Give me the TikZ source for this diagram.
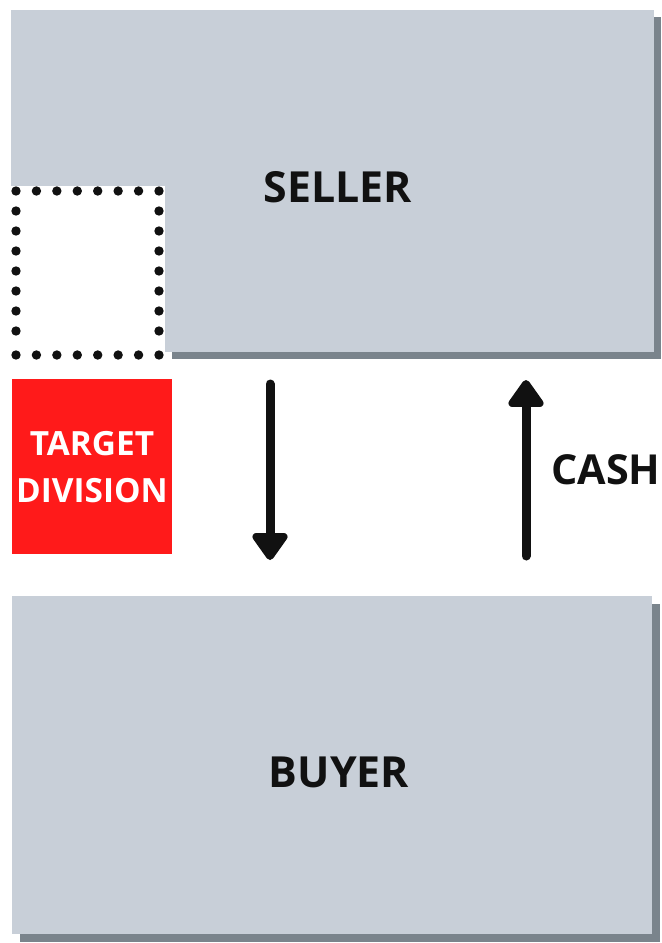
\documentclass[tikz,border=0pt]{standalone}
\usepackage{fontspec}
\setmainfont{Open Sans}
\usetikzlibrary{arrows.meta,shadows}
\definecolor{boxgray}{RGB}{200,207,216}
\definecolor{shadegray}{RGB}{122,132,140}
\definecolor{targetred}{RGB}{255,26,26}
\definecolor{ink}{RGB}{17,17,17}
\tikzset{
  party/.style={fill=boxgray, draw=none, inner sep=0pt, anchor=north west},
  shade/.style={drop shadow={shadow xshift=#1, shadow yshift=-#1, fill=shadegray, opacity=1}},
  bigtext/.style={font=\bfseries\fontsize{43}{50}\selectfont, text=ink, inner sep=0pt},
  flow/.style={line width=9bp, line cap=round, draw=ink,
    -{Triangle[width=40bp,length=30bp,round]}},
  dot/.style={fill=ink, draw=none},
}
\begin{document}
\begin{tikzpicture}[x=1bp, y=-1bp]
  \useasboundingbox (0,0) rectangle (662,943);

  % seller: main box with shadow, plus the part above the carved-out division
  \node[party, shade=7bp, minimum width=489bp, minimum height=342bp] (seller) at (165,10) {};
  \node[party, minimum width=154bp, minimum height=176bp] (sellertop) at (11,10) {};
  \node[bigtext] (sellerlabel) at (338,187) {SELLER};

  % dotted outline of the carved-out division
  \foreach \i in {0,...,7} {
    \fill[dot] ({16+143*\i/7},191) circle (4.7bp);
    \fill[dot] ({16+143*\i/7},355) circle (4.7bp);
  }
  \foreach \j in {1,...,7} {
    \fill[dot] (16,{191+20*\j}) circle (4.7bp);
    \fill[dot] (159,{191+20*\j}) circle (4.7bp);
  }

  % target division
  \node[fill=targetred, inner sep=0pt, anchor=north west,
        minimum width=160bp, minimum height=175bp] (target) at (12,379) {};
  \node[font=\bfseries\fontsize{33.5}{47}\selectfont, text=white, align=center,
        inner sep=0pt] (targetlabel) at (92,467) {TARGET\\DIVISION};

  % buyer
  \node[party, shade=8bp, minimum width=640bp, minimum height=338bp] (buyer) at (12,596) {};
  \node[bigtext] (buyerlabel) at (339,772) {BUYER};

  % flows between seller and buyer
  \coordinate (downtop) at (270,384);
  \coordinate (downend) at (270,560);
  \coordinate (uptop) at (526,380);
  \coordinate (upend) at (526,556);
  \draw[flow] (downtop) -- (downend);
  \draw[flow] (upend) -- (uptop);
  \node[font=\bfseries\fontsize{41.5}{48}\selectfont, text=ink, inner sep=0pt,
        anchor=west] (cash) at (551,470) {CASH};
\end{tikzpicture}
\end{document}
